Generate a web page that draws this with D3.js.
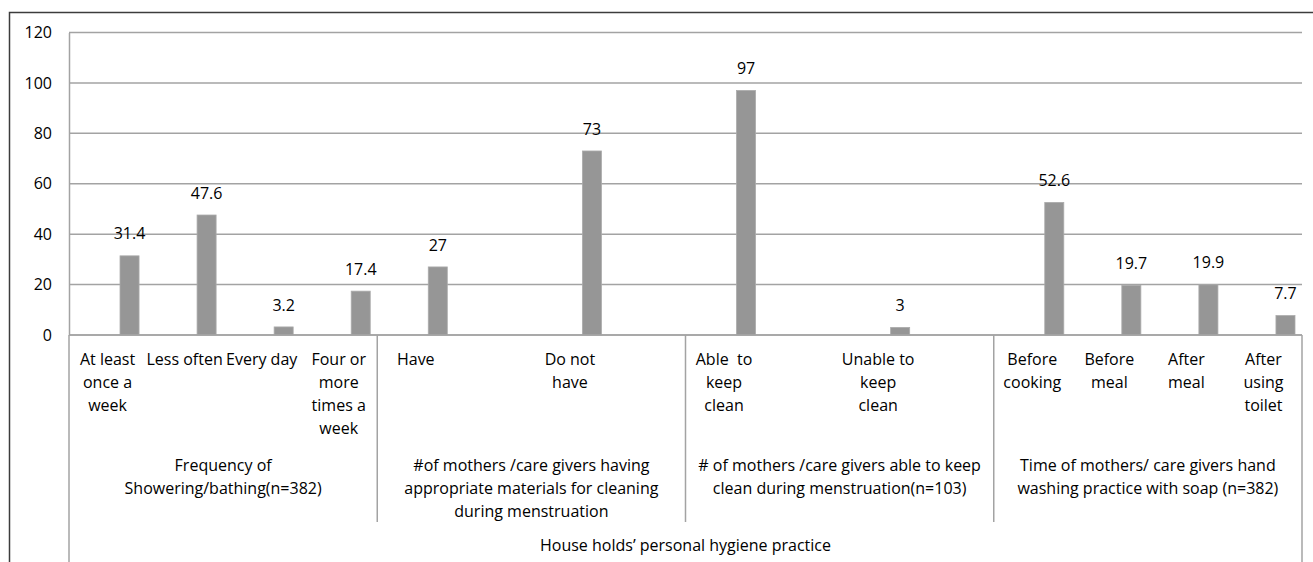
<!DOCTYPE html>
<html>
<head>
<meta charset="utf-8">
<script src="https://cdn.jsdelivr.net/npm/d3@7/dist/d3.min.js"></script>
<style>
  body { margin: 0; background: #fff; }
  svg { display: block; font-family: "Open Sans", "Noto Sans", sans-serif; }
  text { fill: #000; }
</style>
</head>
<body>
<div id="chart"></div>
<script>
// leaf categories (4 slots per group, empty slots have no label)
var categories = [
	"At least\nonce a\nweek", "Less often", "Every day", "Four or\nmore\ntimes a\nweek",
	"Have", "", "Do not\nhave", "",
	"Able  to\nkeep\nclean", "", "Unable to\nkeep\nclean", "",
	"Before\ncooking", "Before\nmeal", "After\nmeal", "After\nusing\ntoilet"
];
var values = [
	31.4, 47.6, 3.2, 17.4,
	27, null, 73, null,
	97, null, 3, null,
	52.6, 19.7, 19.9, 7.7
];
var groupNames = [
	"Frequency of\nShowering/bathing(n=382)",
	"#of mothers /care givers having\nappropriate materials for cleaning\nduring menstruation",
	"# of mothers /care givers able to keep\nclean during menstruation(n=103)",
	"Time of mothers/ care givers hand\nwashing practice with soap (n=382)"
];
var groupSizes = [4, 4, 4, 4];
var topGroup = "House holds\u2019 personal hygiene practice";
var yTicks = [0, 20, 40, 60, 80, 100, 120];

(function() {
	var W = 1313, H = 562;
	var plotLeft = 69, plotRight = 1302, plotTop = 32.5, base = 335;
	var lineH = 23;
	var gridColor = "#a3a3a3";

	var svg = d3.select("#chart").append("svg")
		.attr("width", W)
		.attr("height", H);

	// outer chart border (bottom/right cut off)
	svg.append("path")
		.attr("d", "M9.5," + H + "V12.5H" + W)
		.attr("fill", "none")
		.attr("stroke", "#3c3c3c")
		.attr("stroke-width", 1.5);

	var x = d3.scaleBand()
		.domain(d3.range(categories.length))
		.range([plotLeft, plotRight])
		.padding(0);

	var y = d3.scaleLinear()
		.domain([0, 120])
		.range([base, plotTop]);

	// gridlines
	svg.append("g")
		.selectAll("line")
		.data(yTicks)
		.enter().append("line")
			.attr("x1", plotLeft)
			.attr("x2", plotRight)
			.attr("y1", function(d) { return y(d); })
			.attr("y2", function(d) { return y(d); })
			.attr("stroke", gridColor)
			.attr("stroke-width", 1.5);

	// y axis
	var yAxis = svg.append("g")
		.attr("transform", "translate(" + plotLeft + ",0)")
		.call(d3.axisLeft(y).tickValues(yTicks).tickSize(0).tickPadding(17));
	yAxis.select(".domain").attr("stroke", gridColor).attr("stroke-width", 1.5);
	yAxis.selectAll("text")
		.style("font-family", "\"Open Sans\", sans-serif")
		.style("font-size", "16px")
		.attr("fill", "#000");

	// bars
	var bw = x.bandwidth();
	var barData = values.map(function(v, i) { return {i: i, v: v}; })
		.filter(function(d) { return d.v != null; });

	svg.append("g")
		.selectAll("rect")
		.data(barData)
		.enter().append("rect")
			.attr("x", function(d) { return x(d.i) + bw * 0.662; })
			.attr("width", bw * 0.247)
			.attr("y", function(d) { return y(d.v); })
			.attr("height", function(d) { return base - y(d.v); })
			.attr("fill", "#969696")
			.attr("stroke", "#ababab")
			.attr("stroke-width", 0.8);

	svg.append("g")
		.selectAll("text")
		.data(barData)
		.enter().append("text")
			.attr("x", function(d) { return x(d.i) + bw * 0.7855; })
			.attr("y", function(d) { return y(d.v) - 22; })
			.attr("dy", "0.35em")
			.attr("text-anchor", "middle")
			.style("font-size", "16px")
			.text(function(d) { return d.v; });

	// category axis structure
	var axisG = svg.append("g")
		.attr("stroke", gridColor)
		.attr("stroke-width", 1.5);
	axisG.append("line")
		.attr("x1", plotLeft).attr("x2", plotRight)
		.attr("y1", base).attr("y2", base);
	axisG.append("line")
		.attr("x1", plotLeft).attr("x2", plotLeft)
		.attr("y1", base).attr("y2", H);
	axisG.append("line")
		.attr("x1", plotRight).attr("x2", plotRight)
		.attr("y1", base).attr("y2", H);

	var starts = [];
	var acc = 0;
	groupSizes.forEach(function(n) { starts.push(acc); acc += n; });

	starts.slice(1).forEach(function(s) {
		axisG.append("line")
			.attr("x1", x(s)).attr("x2", x(s))
			.attr("y1", base).attr("y2", 522);
	});

	function multiline(g, str, cx, cy) {
		var t = g.append("text")
			.attr("x", cx)
			.attr("y", cy)
			.attr("text-anchor", "middle")
			.style("font-size", "16px")
			.style("white-space", "pre");
		str.split("\n").forEach(function(line, k) {
			t.append("tspan")
				.attr("x", cx)
				.attr("y", cy + k * lineH)
				.attr("dy", "0.35em")
				.text(line);
		});
	}

	var labelG = svg.append("g");
	categories.forEach(function(c, i) {
		if (c) multiline(labelG, c, x(i) + bw / 2, 359);
	});

	groupNames.forEach(function(g, k) {
		var x0 = x(starts[k]);
		var x1 = x(starts[k] + groupSizes[k] - 1) + bw;
		multiline(labelG, g, (x0 + x1) / 2, 465);
	});

	multiline(labelG, topGroup, (plotLeft + plotRight) / 2, 545);
})();
</script>
</body>
</html>
